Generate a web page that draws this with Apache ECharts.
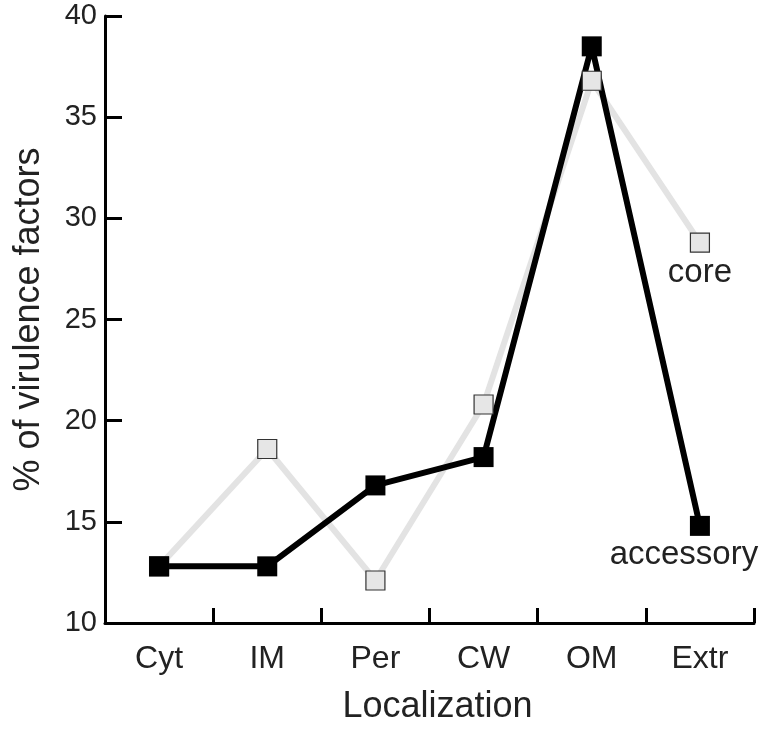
<!DOCTYPE html>
<html>
<head>
<meta charset="utf-8">
<script src="https://cdn.jsdelivr.net/npm/echarts@6/dist/echarts.min.js"></script>
<style>html,body{margin:0;padding:0;background:#fff;}#c{width:765px;height:730px;}</style>
</head>
<body>
<div id="c"></div>
<script>
const categories = ['Cyt', 'IM', 'Per', 'CW', 'OM', 'Extr'];
const coreValues = [12.8, 18.6, 12.1, 20.8, 36.8, 28.8];
const accessoryValues = [12.8, 12.8, 16.8, 18.2, 38.5, 14.8];
const yTicks = { min: 10, max: 40, interval: 5 };
const seriesNames = ['core', 'accessory'];

const FONT = '"Liberation Sans", Arial, sans-serif';
const TXT = '#222';

function withEndLabel(values, text, labelOpts) {
  return values.map((v, i) => i === values.length - 1
    ? { value: v, label: Object.assign({ show: true, formatter: text, fontFamily: FONT, color: TXT }, labelOpts) }
    : v);
}

const chart = echarts.init(document.getElementById('c'), null, { renderer: 'canvas' });
chart.setOption({
  animation: false,
  backgroundColor: '#fff',
  grid: { left: 105, right: 11, top: 16, bottom: 103, containLabel: false },
  xAxis: {
    type: 'category',
    data: categories,
    boundaryGap: true,
    name: 'Localization',
    nameLocation: 'middle',
    nameGap: 66,
    nameTextStyle: { fontFamily: FONT, fontSize: 36, color: TXT, padding: [0, 0, 0, 16] },
    axisLine: { lineStyle: { color: '#000', width: 3 } },
    axisTick: { show: true, inside: true, length: 15, lineStyle: { color: '#000', width: 3 } },
    axisLabel: { fontFamily: FONT, fontSize: 32, color: TXT, margin: 20 },
    splitLine: { show: false }
  },
  yAxis: {
    type: 'value',
    min: yTicks.min, max: yTicks.max, interval: yTicks.interval,
    name: '% of virulence factors',
    nameLocation: 'middle',
    nameGap: 58,
    nameTextStyle: { fontFamily: FONT, fontSize: 36, color: TXT },
    axisLine: { show: true, lineStyle: { color: '#000', width: 3 } },
    axisTick: { show: true, inside: true, length: 17, lineStyle: { color: '#000', width: 3 } },
    axisLabel: { fontFamily: FONT, fontSize: 29, color: TXT, margin: 8 },
    splitLine: { show: false }
  },
  series: [
    {
      name: seriesNames[0], type: 'line', data: coreValues, z: 1,
      showSymbol: false, symbol: 'none',
      lineStyle: { color: '#e3e3e3', width: 6 }, silent: true
    },
    {
      name: seriesNames[1], type: 'line', data: accessoryValues, z: 2,
      showSymbol: false, symbol: 'none',
      lineStyle: { color: '#000', width: 6 }, silent: true
    },
    {
      name: seriesNames[0], type: 'line', z: 3,
      data: withEndLabel(coreValues, 'core', { position: 'bottom', distance: 4, fontSize: 33 }),
      symbol: 'rect', symbolSize: 19, showAllSymbol: true,
      itemStyle: { color: '#e6e6e6', borderColor: '#333', borderWidth: 1.2 },
      lineStyle: { width: 0, opacity: 0 }, silent: true
    },
    {
      name: seriesNames[1], type: 'line', z: 4,
      data: withEndLabel(accessoryValues, 'accessory', { position: 'bottom', distance: 3, fontSize: 33, offset: [-16, 0] }),
      symbol: 'rect', symbolSize: 20, showAllSymbol: true,
      itemStyle: { color: '#000', borderColor: '#000', borderWidth: 0 },
      lineStyle: { width: 0, opacity: 0 }, silent: true
    }
  ]
});
</script>
</body>
</html>
